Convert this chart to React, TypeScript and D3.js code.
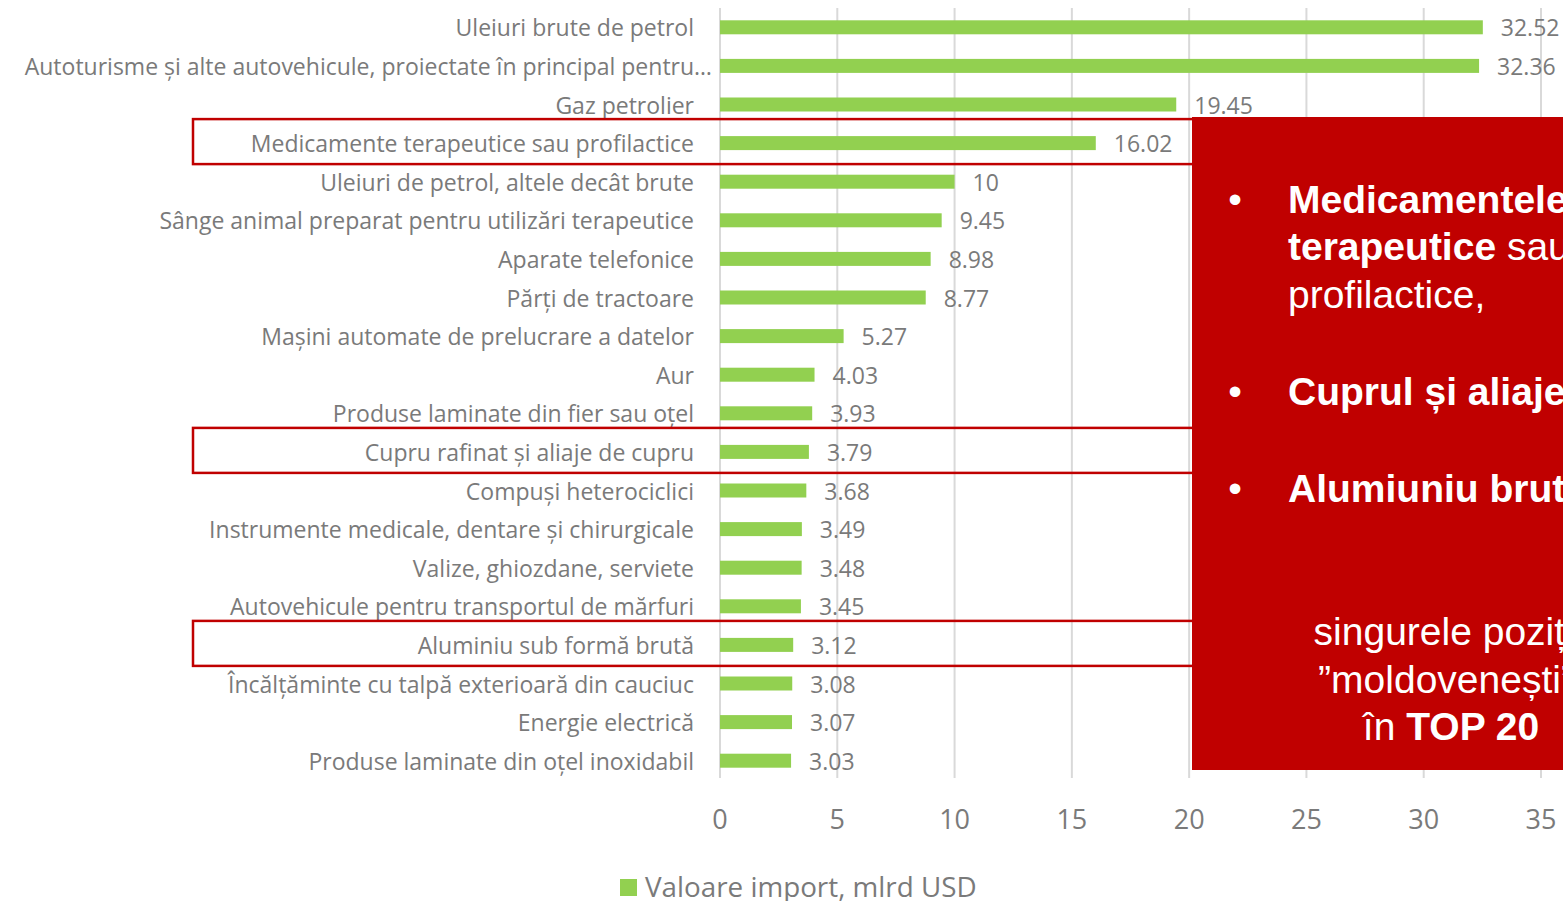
import React from 'react';
import * as d3 from 'd3';

const categories = [
  'Uleiuri brute de petrol',
  'Autoturisme și alte autovehicule, proiectate în principal pentru…',
  'Gaz petrolier',
  'Medicamente terapeutice sau profilactice',
  'Uleiuri de petrol, altele decât brute',
  'Sânge animal preparat pentru utilizări terapeutice',
  'Aparate telefonice',
  'Părți de tractoare',
  'Mașini automate de prelucrare a datelor',
  'Aur',
  'Produse laminate din fier sau oțel',
  'Cupru rafinat și aliaje de cupru',
  'Compuși heterociclici',
  'Instrumente medicale, dentare și chirurgicale',
  'Valize, ghiozdane, serviete',
  'Autovehicule pentru transportul de mărfuri',
  'Aluminiu sub formă brută',
  'Încălțăminte cu talpă exterioară din cauciuc',
  'Energie electrică',
  'Produse laminate din oțel inoxidabil',
];

const importValues = [
  32.52, 32.36, 19.45, 16.02, 10, 9.45, 8.98, 8.77, 5.27, 4.03,
  3.93, 3.79, 3.68, 3.49, 3.48, 3.45, 3.12, 3.08, 3.07, 3.03,
];

const highlighted = [
  'Medicamente terapeutice sau profilactice',
  'Cupru rafinat și aliaje de cupru',
  'Aluminiu sub formă brută',
];

const xTicks = [0, 5, 10, 15, 20, 25, 30, 35];
const seriesName = 'Valoare import, mlrd USD';

const W = 1563;
const H = 901;
const GREEN = '#92d050';
const RED = '#c00000';
const GRAY = '#7a7a7a';
const LABEL_FONT = '"Open Sans", sans-serif';
const NOTE_FONT = '"Liberation Sans", Arial, sans-serif';

export default function App() {
  const x = d3.scaleLinear().domain([0, 35]).range([720, 1541]);
  const y = d3.scalePoint<string>().domain(categories).range([8, 780]).padding(0.5);
  const barH = 14;
  const plotTop = 8;
  const plotBottom = 778;

  // panel with the commentary, covering the right part of the plot
  const panel = { x0: 1192, y0: 117, x1: W, y1: 770 };

  return (
    <svg
      width={W}
      height={H}
      style={{ position: 'absolute', left: 0, top: 0, background: '#fff' }}
    >
      {/* gridlines */}
      {xTicks.map(t => (
        <line
          key={'g' + t}
          x1={x(t)}
          x2={x(t)}
          y1={plotTop}
          y2={plotBottom}
          stroke="#d9d9d9"
          strokeWidth={2}
        />
      ))}

      {/* bars */}
      {categories.map((c, i) => (
        <rect
          key={'b' + i}
          x={x(0)}
          y={(y(c) as number) - barH / 2}
          width={x(importValues[i]) - x(0)}
          height={barH}
          fill={GREEN}
        />
      ))}

      {/* category labels */}
      {categories.map((c, i) => (
        <text
          key={'c' + c}
          x={i === 1 ? 712 : 694}
          y={(y(c) as number) + 9}
          textAnchor="end"
          fontFamily={LABEL_FONT}
          fontSize={23}
          fill={GRAY}
        >
          {c}
        </text>
      ))}

      {/* value labels */}
      {categories.map((c, i) => (
        <text
          key={'v' + i}
          x={x(importValues[i]) + 18}
          y={(y(c) as number) + 9}
          fontFamily={LABEL_FONT}
          fontSize={23}
          fill={GRAY}
        >
          {String(importValues[i])}
        </text>
      ))}

      {/* x tick labels */}
      {xTicks.map(t => (
        <text
          key={'t' + t}
          x={x(t)}
          y={829}
          textAnchor="middle"
          fontFamily={LABEL_FONT}
          fontSize={27}
          fill={GRAY}
        >
          {t}
        </text>
      ))}

      {/* legend */}
      <rect x={620} y={879} width={17} height={17} fill={GREEN} />
      <text x={645} y={897} fontFamily={LABEL_FONT} fontSize={27.8} fill={GRAY}>
        {seriesName}
      </text>

      {/* highlight frames */}
      {highlighted.map(c => (
        <rect
          key={'h' + c}
          x={193}
          y={(y(c) as number) - 24}
          width={panel.x0 + 6 - 193}
          height={45}
          fill="none"
          stroke={RED}
          strokeWidth={2.5}
        />
      ))}

      {/* commentary panel */}
      <rect
        x={panel.x0}
        y={panel.y0}
        width={panel.x1 - panel.x0}
        height={panel.y1 - panel.y0}
        fill={RED}
      />
      <g fontFamily={NOTE_FONT} fontSize={39} fill="#fff">
        <text x={1235} y={213} textAnchor="middle">•</text>
        <text x={1288} y={213} fontWeight="bold">Medicamentele</text>
        <text x={1288} y={260}>
          <tspan fontWeight="bold">terapeutice</tspan> sau
        </text>
        <text x={1288} y={308}>profilactice,</text>

        <text x={1235} y={405} textAnchor="middle">•</text>
        <text x={1288} y={405} fontWeight="bold">Cuprul și aliajele,</text>

        <text x={1235} y={502} textAnchor="middle">•</text>
        <text x={1288} y={502} fontWeight="bold">Alumiuniu brut</text>

        <text x={1448} y={645} textAnchor="middle">singurele poziții</text>
        <text x={1446} y={693} textAnchor="middle">”moldovenești”</text>
        <text x={1451} y={740} textAnchor="middle">
          în <tspan fontWeight="bold">TOP 20</tspan>
        </text>
      </g>
    </svg>
  );
}
